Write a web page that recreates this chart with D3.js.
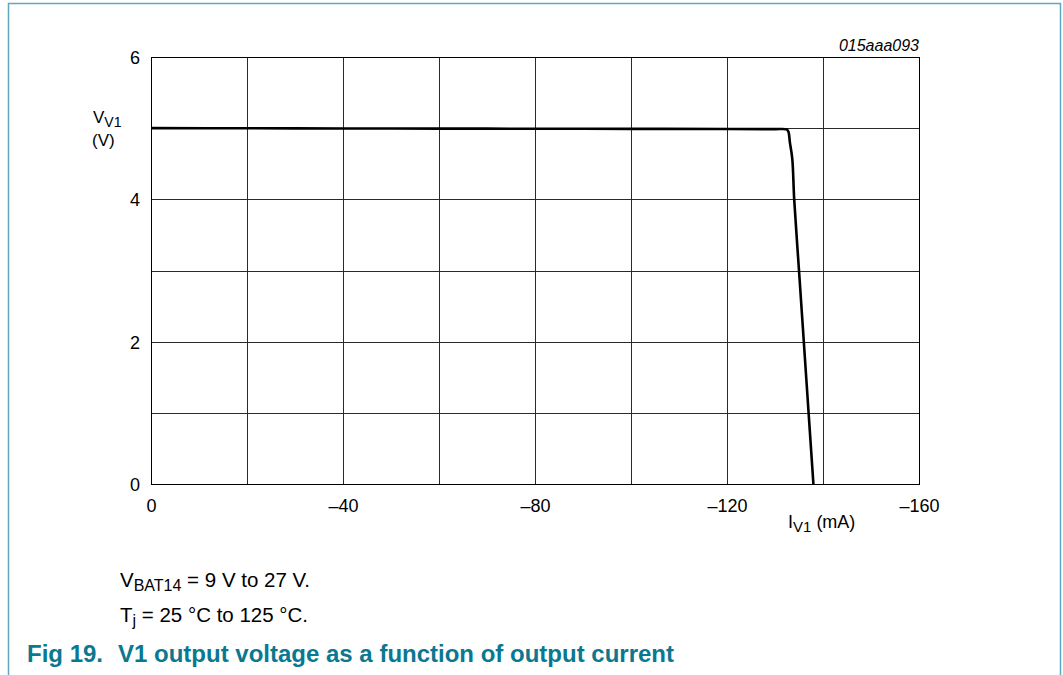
<!DOCTYPE html>
<html>
<head>
<meta charset="utf-8">
<script src="https://cdn.jsdelivr.net/npm/d3@7"></script>
<style>
  html, body { margin: 0; padding: 0; background: #fff; }
  svg { display: block; font-family: "Liberation Sans", Arial, Helvetica, sans-serif; }
</style>
</head>
<body>
<svg id="chart" width="1063" height="675"></svg>
<script>
// ---- data ----
const currentMA = [0, -20, -40, -60, -80, -100, -120, -130, -132.4, -132.8, -133.1, -133.6, -134.0, -135.0, -136.0, -137.0, -138.0];
const voltageV  = [5.0, 4.998, 4.996, 4.994, 4.992, 4.99, 4.988, 4.986, 4.982, 4.95, 4.8, 4.57, 4.0, 3.0, 2.0, 1.0, 0.0];
const xTicks = [0, -20, -40, -60, -80, -100, -120, -140, -160];
const xTickLabels = ["0", "", "\u201340", "", "\u201380", "", "\u2013120", "", "\u2013160"];
const yTicks = [0, 1, 2, 3, 4, 5, 6];
const yTickLabels = ["0", "", "2", "", "4", "", "6"];
const figNumber = "Fig 19.";
const figTitle = "V1 output voltage as a function of output current";
const codeLabel = "015aaa093";

const svg = d3.select("#chart");
const W = 1063, H = 675;
const FONT = "'Liberation Sans', Arial, sans-serif";

// frame
svg.append("path")
  .attr("d", `M8.5,${H} L8.5,3.5 L1060.5,3.5 L1060.5,${H}`)
  .attr("fill", "none").attr("stroke", "#5fa8bf").attr("stroke-width", 1.5);

const plot = { left: 151, right: 919, top: 57, bottom: 484 };
const x = d3.scaleLinear().domain([0, -160]).range([plot.left, plot.right]);
const y = d3.scaleLinear().domain([0, 6]).range([plot.bottom, plot.top]);

const g = svg.append("g");

// grid via axes
const xGrid = d3.axisBottom(x).tickValues(xTicks).tickSize(-(plot.bottom - plot.top)).tickFormat("");
g.append("g").attr("transform", `translate(0,${plot.bottom})`).call(xGrid)
  .call(s => s.select(".domain").remove())
  .call(s => s.selectAll("line").attr("stroke", "#2a2a2a").attr("stroke-width", 1).attr("shape-rendering", "crispEdges"));
const yGrid = d3.axisLeft(y).tickValues(yTicks).tickSize(-(plot.right - plot.left)).tickFormat("");
g.append("g").attr("transform", `translate(${plot.left},0)`).call(yGrid)
  .call(s => s.select(".domain").remove())
  .call(s => s.selectAll("line").attr("stroke", "#2a2a2a").attr("stroke-width", 1).attr("shape-rendering", "crispEdges"));

// plot border
g.append("rect").attr("x", plot.left).attr("y", plot.top)
  .attr("width", plot.right - plot.left).attr("height", plot.bottom - plot.top)
  .attr("fill", "none").attr("stroke", "#000").attr("stroke-width", 1).attr("shape-rendering", "crispEdges");

// tick labels via axes
const xAxis = d3.axisBottom(x).tickValues(xTicks).tickSize(0).tickPadding(0)
  .tickFormat((d, i) => xTickLabels[i]);
g.append("g").attr("transform", `translate(0,512)`).call(xAxis)
  .call(s => s.select(".domain").remove())
  .call(s => s.selectAll("text").attr("font-size", 18).attr("fill", "#000")
    .attr("font-family", FONT).attr("dy", "0"));
const yAxis = d3.axisLeft(y).tickValues(yTicks).tickSize(0).tickPadding(0)
  .tickFormat((d, i) => yTickLabels[i]);
g.append("g").attr("transform", `translate(${plot.left - 11},0)`).call(yAxis)
  .call(s => s.select(".domain").remove())
  .call(s => s.selectAll("text").attr("font-size", 18).attr("fill", "#000")
    .attr("font-family", FONT).attr("dy", "0.36em"));

// curve
g.append("path").datum(voltageV)
  .attr("d", d3.line().x((d, i) => x(currentMA[i])).y(d => y(d)).curve(d3.curveCatmullRom.alpha(0.5)))
  .attr("fill", "none").attr("stroke", "#000").attr("stroke-width", 2.6).attr("stroke-linejoin", "round");

// code label
svg.append("text").attr("x", plot.right).attr("y", 51).attr("text-anchor", "end")
  .attr("font-size", 16).attr("font-style", "italic").text(codeLabel);

// y axis title
const yt = svg.append("text").attr("x", 93).attr("y", 123).attr("font-size", 17);
yt.append("tspan").text("V");
yt.append("tspan").attr("font-size", 14).attr("dy", 4).text("V1");
svg.append("text").attr("x", 92).attr("y", 146).attr("font-size", 17).text("(V)");

// x axis title
const xt = svg.append("text").attr("x", 788).attr("y", 528).attr("font-size", 18);
xt.append("tspan").text("I");
xt.append("tspan").attr("font-size", 15).attr("dy", 4).text("V1");
xt.append("tspan").attr("dy", -4).text(" (mA)");

// notes
const n1 = svg.append("text").attr("x", 120).attr("y", 587).attr("font-size", 20.5);
n1.append("tspan").text("V");
n1.append("tspan").attr("font-size", 16).attr("dy", 4).text("BAT14");
n1.append("tspan").attr("dy", -4).text(" = 9 V to 27 V.");
const n2 = svg.append("text").attr("x", 120).attr("y", 622).attr("font-size", 20.5);
n2.append("tspan").text("T");
n2.append("tspan").attr("font-size", 16).attr("dy", 4).text("j");
n2.append("tspan").attr("dy", -4).text(" = 25 \u00B0C to 125 \u00B0C.");

// caption
svg.append("text").attr("x", 27).attr("y", 662).attr("font-size", 24).attr("font-weight", "bold")
  .attr("fill", "#0a7890").text(figNumber);
svg.append("text").attr("x", 118).attr("y", 662).attr("font-size", 24).attr("font-weight", "bold")
  .attr("fill", "#0a7890").text(figTitle);
</script>
</body>
</html>
